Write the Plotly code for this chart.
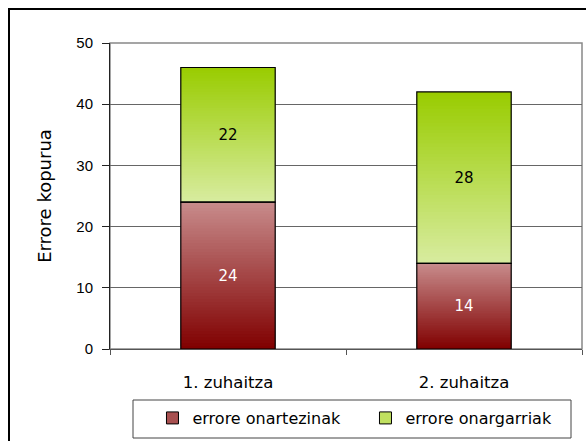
import plotly.graph_objects as go

categories = ["1. zuhaitza", "2. zuhaitza"]
onartezinak = [24, 14]
onargarriak = [22, 28]
series_names = ["errore onartezinak", "errore onargarriak"]
y_ticks = [0, 10, 20, 30, 40, 50]

# gradient end colours (bottom, top) per series
grad = [((0x80, 0x00, 0x00), (0xC8, 0x8C, 0x8C)),
        ((0xD8, 0xEC, 0xA0), (0x99, 0xCC, 0x00))]
text_colors = ["white", "black"]
legend_colors = ["#a85050", "#c0e060"]

N = 50
BAR_W = 0.4
comic = "Comic Sans MS, DejaVu Sans, sans-serif"
arial = "Arial, Liberation Sans, sans-serif"

fig = go.Figure()

def mix(c0, c1, t):
    return "rgb(%d,%d,%d)" % tuple(round(a + (b - a) * t) for a, b in zip(c0, c1))

series = [onartezinak, onargarriak]
bases = [[0] * len(categories), list(onartezinak)]

# gradient fill: thin overlapping slices of each stacked segment
for s, vals in enumerate(series):
    c0, c1 = grad[s]
    for i in range(N):
        col = mix(c0, c1, (i + 0.5) / N)
        frac = 2.0 / N if i < N - 1 else 1.0 / N
        fig.add_trace(go.Bar(
            x=categories,
            y=[v * frac for v in vals],
            base=[b + v * i / N for b, v in zip(bases[s], vals)],
            width=BAR_W,
            marker=dict(color=col, line=dict(width=0)),
            showlegend=False, hoverinfo="skip",
        ))

for s, vals in enumerate(series):
    fig.add_trace(go.Bar(
        x=categories, y=vals, base=bases[s], width=BAR_W,
        marker=dict(color="rgba(0,0,0,0)", line=dict(color="black", width=1.2)),
        text=[str(v) for v in vals], textposition="inside",
        insidetextanchor="middle", textangle=0,
        textfont=dict(family=comic, size=15, color=text_colors[s]),
        showlegend=False, name=series_names[s],
    ))

for s in range(2):
    fig.add_trace(go.Bar(
        x=[None], y=[None], name=series_names[s],
        marker=dict(color=legend_colors[s], line=dict(color="black", width=1)),
        showlegend=True,
    ))

fig.update_layout(
    width=586, height=441,
    margin=dict(l=110, r=4, t=43, b=92),
    barmode="overlay",
    plot_bgcolor="white", paper_bgcolor="white",
    showlegend=True,
    legend=dict(
        orientation="h", x=0.09, y=-0.17, xanchor="left", yanchor="top",
        font=dict(family=comic, size=16, color="black"),
        entrywidth=168, entrywidthmode="pixels",
        bgcolor="rgba(0,0,0,0)", borderwidth=0,
        itemclick=False, itemdoubleclick=False,
    ),
    xaxis=dict(
        type="category", range=[-0.5, 1.5],
        showgrid=False, showline=True, linecolor="#555", linewidth=1,
        ticks="outside", tickson="boundaries", ticklen=5, tickcolor="#555",
        tickfont=dict(family=comic, size=16.5, color="black"),
        ticklabelstandoff=18,
    ),
    yaxis=dict(
        range=[0, 50], tickvals=y_ticks, ticktext=[str(t) for t in y_ticks],
        showgrid=True, gridcolor="#666", gridwidth=1,
        showline=True, linecolor="#222", linewidth=1,
        ticks="outside", ticklen=7, tickcolor="#222",
        tickfont=dict(family=arial, size=15, color="black"),
        ticklabelstandoff=6,
        title=dict(text="Errore kopurua", font=dict(family=comic, size=18, color="black"),
                   standoff=20),
        zeroline=False,
    ),
    shapes=[
        dict(type="rect", xref="paper", yref="paper", x0=0, x1=1, y0=0, y1=1,
             line=dict(color="#888", width=1.5), layer="below"),
        dict(type="rect", xref="paper", yref="paper",
             x0=(9 - 110) / 472, x1=(620 - 110) / 472,
             y0=(349 - 480) / 306, y1=(349 - 9) / 306,
             line=dict(color="black", width=2), fillcolor="rgba(0,0,0,0)"),
        dict(type="rect", xref="paper", yref="paper",
             x0=(133 - 110) / 472, x1=(571 - 110) / 472,
             y0=(349 - 438) / 306, y1=(349 - 400) / 306,
             line=dict(color="#444", width=1), fillcolor="rgba(0,0,0,0)"),
    ],
)

fig.write_html("out.html")
